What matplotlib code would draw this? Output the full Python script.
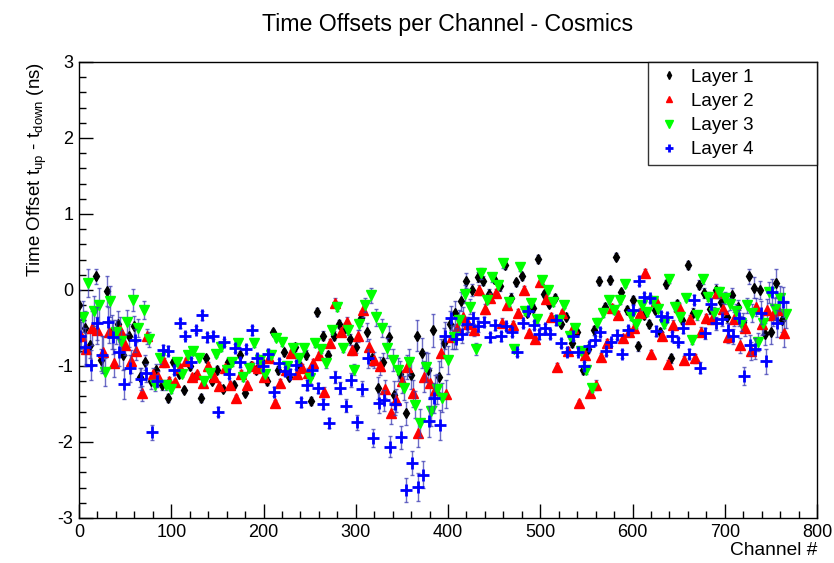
import numpy as np
import matplotlib
matplotlib.use("Agg")
import matplotlib.pyplot as plt
from matplotlib.ticker import MultipleLocator

plt.rcParams['font.family'] = ['Liberation Sans', 'DejaVu Sans']
plt.rcParams['axes.unicode_minus'] = False

# channel numbers of each layer (one point every 6 channels)
ch1 = np.arange(0, 768, 6)
ch2 = np.arange(2, 768, 6)
ch3 = np.arange(4, 768, 6)
ch4 = np.arange(1, 768, 6)

# time offsets (ns), 16 values per row
off1 = [-0.20, -0.50, -0.72, 0.18, -0.92, -0.01, -0.55, -0.45, -0.85, -0.60, -0.48, -1.15, -0.95, -1.20, -1.05, -1.25,
        -1.42, -0.95, -1.10, -1.32, -1.00, -1.15, -1.42, -0.90, -1.20, -1.05, -1.30, -0.95, -1.25, -0.85, -1.35, -1.00,
        -1.05, -0.95, -1.20, -0.55, -1.05, -0.82, -1.15, -0.75, -1.00, -0.85, -1.46, -0.29, -0.60, -0.85, -0.60, -0.45,
        -0.50, -0.65, -0.75, -0.37, -0.55, -0.90, -1.29, -0.95, -0.62, -1.38, -1.10, -1.62, -1.12, -0.60, -0.83, -1.05,
        -0.53, -1.14, -0.70, -0.45, -0.30, -0.15, 0.12, 0.00, 0.17, 0.12, -0.05, 0.15, 0.05, 0.33, -0.10, 0.10,
        0.18, -0.30, -0.24, 0.41, -0.05, -0.18, -0.10, -0.45, -0.35, -0.70, -0.55, -1.05, -0.78, -0.53, 0.12, -0.22,
        0.13, 0.44, -0.03, -0.26, -0.13, -0.74, -0.33, -0.45, -0.26, -0.55, 0.08, -0.90, -0.18, -0.40, 0.33, -0.30,
        0.07, -0.04, -0.25, 0.00, -0.16, -0.35, -0.07, -0.23, -0.42, 0.18, 0.03, 0.00, -0.58, -0.55, 0.09, -0.40]
off2 = [-0.60, -0.77, -0.50, -0.53, -0.81, -0.55, -0.96, -0.52, -0.72, -0.94, -0.80, -1.36, -0.61, -1.10, -1.14, -0.95,
        -1.20, -1.21, -1.03, -0.94, -1.15, -1.10, -1.23, -1.00, -1.15, -1.26, -1.03, -1.25, -1.42, -1.10, -1.25, -1.00,
        -1.03, -1.15, -0.90, -1.49, -1.22, -1.05, -0.83, -1.10, -1.03, -1.09, -0.96, -0.86, -1.34, -0.70, -0.17, -0.55,
        -0.42, -0.79, -0.60, -0.26, -0.75, -0.92, -1.00, -1.30, -1.62, -1.45, -1.20, -1.01, -1.36, -1.88, -1.14, -1.23,
        -1.32, -0.83, -1.37, -0.62, -0.50, -0.35, -0.45, -0.53, 0.00, -0.25, -0.10, -0.04, -0.43, -0.20, -0.46, -0.30,
        0.00, -0.57, -0.65, 0.11, -0.12, -0.35, -1.01, -0.30, -0.80, -0.50, -1.49, -0.85, -1.36, -1.25, -0.88, -0.70,
        -0.24, -0.33, -0.63, -0.55, -0.50, -0.30, 0.23, -0.84, -0.15, -0.60, -0.97, -0.46, -0.22, -0.92, -0.38, -0.90,
        -0.55, -0.37, -0.38, -0.04, -0.25, -0.62, -0.38, -0.73, -0.50, -0.80, -0.22, -0.45, -0.26, -0.33, -0.26, -0.57]
off3 = [-0.35, 0.09, -0.28, -0.20, -1.08, -0.15, -0.55, -0.67, -0.42, -0.13, -0.50, -0.26, -0.65, -1.25, -0.90, -1.25,
        -1.30, -0.95, -1.10, -0.85, -0.80, -0.90, -1.20, -1.09, -0.84, -0.75, -1.05, -0.95, -0.70, -1.15, -1.03, -0.70,
        -0.92, -1.11, -0.85, -0.63, -0.69, -1.00, -0.76, -0.90, -0.76, -1.16, -0.70, -0.78, -0.96, -0.53, -0.22, -0.76,
        -0.53, -1.05, -0.45, -0.20, -0.07, -0.36, -0.50, -0.76, -0.92, -1.05, -1.29, -0.95, -1.51, -1.75, -1.01, -1.59,
        -1.30, -1.42, -0.92, -0.62, -0.40, -0.05, -0.22, -0.78, 0.22, -0.13, 0.17, 0.06, 0.35, -0.16, -0.77, 0.30,
        -0.28, -0.17, -0.38, 0.13, 0.00, -0.16, -0.40, -0.20, -0.60, -0.50, -0.80, -1.05, -1.29, -0.43, -0.30, -0.13,
        -0.26, -0.13, 0.08, -0.34, -0.45, -0.20, -0.29, -0.15, -0.25, -0.45, 0.14, -0.22, -0.35, -0.10, -0.66, -0.33,
        0.14, -0.09, -0.30, -0.03, -0.11, -0.18, -0.27, -0.44, -0.20, -0.30, -0.68, -0.44, -0.03, -0.25, -0.11, -0.32]
off4 = [-0.60, -0.75, -0.99, -0.44, -0.85, -0.42, -0.62, -0.82, -1.24, -1.03, -0.66, -1.17, -1.09, -1.87, -1.20, -0.79,
        -0.80, -1.05, -0.44, -0.60, -0.95, -0.52, -0.33, -0.62, -0.60, -1.60, -0.69, -1.10, -0.76, -0.95, -0.78, -0.53,
        -0.90, -1.00, -0.84, -1.34, -0.96, -1.07, -1.10, -0.99, -1.48, -1.25, -1.05, -1.29, -1.50, -1.75, -1.14, -1.29,
        -1.52, -1.18, -1.74, -1.30, -0.90, -1.95, -1.49, -1.45, -2.06, -1.50, -1.94, -2.63, -2.28, -2.59, -2.43, -1.73,
        -1.42, -1.78, -0.60, -0.37, -0.64, -0.58, -0.45, -0.37, -0.48, -0.42, -0.62, -0.46, -0.61, -0.48, -0.55, -0.82,
        -0.44, -0.27, -0.46, -0.58, -0.50, -0.58, -0.40, -0.70, -0.81, -0.60, -0.81, -1.00, -0.74, -0.66, -0.55, -0.80,
        -0.69, -0.59, -0.84, -0.53, -0.26, 0.12, -0.09, -0.11, -0.54, -0.34, -0.36, -0.61, -0.68, -0.50, -0.84, -0.13,
        -1.02, -0.57, -0.18, -0.44, -0.38, -0.53, -0.61, -0.37, -1.13, -0.72, -0.77, -0.30, -0.94, -0.03, -0.44, -0.16]

# errors (ns)
err1 = [0.20, 0.22, 0.18, 0.10, 0.15, 0.20, 0.22, 0.18, 0.20, 0.15, 0.14, 0.12, 0.10, 0.10, 0.08, 0.06,
        0.05, 0.04, 0.05, 0.04, 0.05, 0.04, 0.05, 0.05, 0.04, 0.05, 0.04, 0.05, 0.04, 0.05, 0.04, 0.05,
        0.05, 0.04, 0.05, 0.04, 0.05, 0.05, 0.04, 0.05, 0.05, 0.06, 0.05, 0.05, 0.06, 0.05, 0.06, 0.05,
        0.06, 0.07, 0.08, 0.10, 0.12, 0.10, 0.14, 0.12, 0.15, 0.18, 0.16, 0.15, 0.18, 0.20, 0.20, 0.22,
        0.22, 0.20, 0.20, 0.18, 0.15, 0.12, 0.10, 0.08, 0.07, 0.06, 0.06, 0.05, 0.06, 0.05, 0.06, 0.05,
        0.05, 0.04, 0.05, 0.05, 0.04, 0.05, 0.05, 0.04, 0.05, 0.05, 0.04, 0.05, 0.05, 0.06, 0.05, 0.05,
        0.05, 0.05, 0.04, 0.05, 0.05, 0.06, 0.05, 0.05, 0.04, 0.05, 0.05, 0.06, 0.05, 0.05, 0.05, 0.06,
        0.06, 0.07, 0.06, 0.08, 0.07, 0.08, 0.09, 0.10, 0.12, 0.10, 0.14, 0.12, 0.15, 0.16, 0.18, 0.15]
err2 = [0.18, 0.20, 0.22, 0.18, 0.20, 0.15, 0.18, 0.16, 0.14, 0.15, 0.12, 0.10, 0.10, 0.08, 0.07, 0.06,
        0.05, 0.04, 0.05, 0.04, 0.05, 0.04, 0.05, 0.05, 0.04, 0.05, 0.04, 0.05, 0.04, 0.05, 0.04, 0.05,
        0.05, 0.04, 0.05, 0.04, 0.05, 0.05, 0.04, 0.05, 0.05, 0.06, 0.05, 0.05, 0.06, 0.05, 0.06, 0.05,
        0.06, 0.06, 0.08, 0.09, 0.10, 0.10, 0.12, 0.12, 0.14, 0.15, 0.15, 0.16, 0.18, 0.18, 0.20, 0.20,
        0.20, 0.18, 0.18, 0.15, 0.14, 0.12, 0.10, 0.08, 0.07, 0.06, 0.06, 0.05, 0.06, 0.05, 0.05, 0.05,
        0.05, 0.04, 0.05, 0.05, 0.04, 0.05, 0.05, 0.04, 0.05, 0.05, 0.04, 0.05, 0.05, 0.06, 0.05, 0.05,
        0.05, 0.05, 0.04, 0.05, 0.05, 0.06, 0.05, 0.05, 0.04, 0.05, 0.05, 0.06, 0.05, 0.05, 0.05, 0.06,
        0.06, 0.06, 0.07, 0.07, 0.08, 0.08, 0.09, 0.10, 0.10, 0.12, 0.12, 0.14, 0.14, 0.15, 0.16, 0.18]
err3 = [0.20, 0.18, 0.20, 0.22, 0.18, 0.20, 0.16, 0.15, 0.16, 0.14, 0.12, 0.12, 0.10, 0.08, 0.07, 0.06,
        0.05, 0.04, 0.05, 0.04, 0.05, 0.04, 0.05, 0.05, 0.04, 0.05, 0.04, 0.05, 0.04, 0.05, 0.04, 0.05,
        0.05, 0.04, 0.05, 0.04, 0.05, 0.05, 0.04, 0.05, 0.05, 0.06, 0.05, 0.05, 0.06, 0.05, 0.06, 0.05,
        0.06, 0.07, 0.07, 0.09, 0.10, 0.11, 0.12, 0.13, 0.14, 0.15, 0.16, 0.17, 0.18, 0.19, 0.20, 0.20,
        0.20, 0.19, 0.18, 0.16, 0.14, 0.12, 0.10, 0.08, 0.07, 0.06, 0.06, 0.05, 0.06, 0.05, 0.05, 0.05,
        0.05, 0.04, 0.05, 0.05, 0.04, 0.05, 0.05, 0.04, 0.05, 0.05, 0.04, 0.05, 0.05, 0.06, 0.05, 0.05,
        0.05, 0.05, 0.04, 0.05, 0.05, 0.06, 0.05, 0.05, 0.04, 0.05, 0.05, 0.06, 0.05, 0.05, 0.05, 0.06,
        0.06, 0.06, 0.07, 0.07, 0.08, 0.08, 0.09, 0.10, 0.10, 0.12, 0.12, 0.14, 0.14, 0.15, 0.16, 0.18]
err4 = [0.22, 0.25, 0.20, 0.22, 0.24, 0.20, 0.22, 0.18, 0.20, 0.18, 0.15, 0.14, 0.12, 0.10, 0.08, 0.07,
        0.06, 0.05, 0.06, 0.05, 0.06, 0.05, 0.06, 0.06, 0.05, 0.06, 0.05, 0.06, 0.05, 0.06, 0.05, 0.06,
        0.06, 0.05, 0.06, 0.06, 0.05, 0.06, 0.06, 0.05, 0.06, 0.07, 0.06, 0.06, 0.07, 0.07, 0.08, 0.08,
        0.08, 0.09, 0.10, 0.10, 0.12, 0.12, 0.13, 0.14, 0.14, 0.15, 0.15, 0.16, 0.16, 0.18, 0.18, 0.20,
        0.20, 0.20, 0.18, 0.16, 0.14, 0.12, 0.10, 0.08, 0.07, 0.06, 0.06, 0.06, 0.06, 0.05, 0.06, 0.05,
        0.05, 0.05, 0.05, 0.06, 0.05, 0.05, 0.06, 0.05, 0.05, 0.06, 0.05, 0.05, 0.06, 0.06, 0.05, 0.05,
        0.05, 0.06, 0.05, 0.05, 0.06, 0.06, 0.05, 0.05, 0.06, 0.05, 0.06, 0.06, 0.05, 0.06, 0.06, 0.06,
        0.07, 0.07, 0.08, 0.08, 0.09, 0.10, 0.10, 0.11, 0.12, 0.13, 0.14, 0.15, 0.16, 0.17, 0.18, 0.20]

labels = ['Layer 1', 'Layer 2', 'Layer 3', 'Layer 4']

layers = [
    (ch1, off1, err1, dict(marker='d', color='black', ms=5.5)),
    (ch2, off2, err2, dict(marker='^', color='#ff0000', ms=6.5)),
    (ch3, off3, err3, dict(marker='v', color='#00ff00', ms=7)),
    (ch4, off4, err4, dict(marker='+', color='#0000ff', ms=8, mew=2)),
]

fig = plt.figure(figsize=(8.34, 5.63), dpi=100)
ax = fig.add_axes([79 / 834, 1 - 518 / 563, (817 - 79) / 834, (518 - 62) / 563])

for (x, y, e, style), lab in zip(layers, labels):
    ax.errorbar(x, y, yerr=e, fmt='none', ecolor='#3c3cb4', alpha=0.75,
                elinewidth=1, capsize=1.5, capthick=1)
    ax.plot(x, y, linestyle='none', label=lab, **style)

ax.set_xlim(0, 800)
ax.set_ylim(-3, 3)
ax.xaxis.set_major_locator(MultipleLocator(100))
ax.xaxis.set_minor_locator(MultipleLocator(20))
ax.yaxis.set_major_locator(MultipleLocator(1))
ax.yaxis.set_minor_locator(MultipleLocator(0.2))
ax.tick_params(which='both', direction='in', top=False, right=False, labelsize=13, width=1)
ax.tick_params(which='major', length=10, pad=4)
ax.tick_params(which='minor', length=5)
for s in ax.spines.values():
    s.set_linewidth(1)

ax.set_title('Time Offsets per Channel - Cosmics', fontsize=16.7, pad=22)
ax.set_xlabel('Channel #', fontsize=13.8, loc='right', labelpad=1)
ax.set_ylabel(r'Time Offset t$_{\mathregular{ up}}$ - t$_{\mathregular{down}}$ (ns)',
              fontsize=13.5, loc='top', labelpad=6)

# legend box spans channel ~617 to the right edge of the frame
leg = ax.legend(loc='upper left', bbox_to_anchor=((648 - 79) / 738, 0, (817 - 648) / 738, 1.0),
                mode='expand', borderaxespad=0,
                fontsize=13.5, frameon=True, fancybox=False, edgecolor='black',
                handletextpad=0.45, borderpad=0.35, labelspacing=0.38, markerscale=0.75,
                handlelength=1.5, numpoints=1)
leg.get_frame().set_linewidth(1)

fig.savefig('out.png', dpi=100)
